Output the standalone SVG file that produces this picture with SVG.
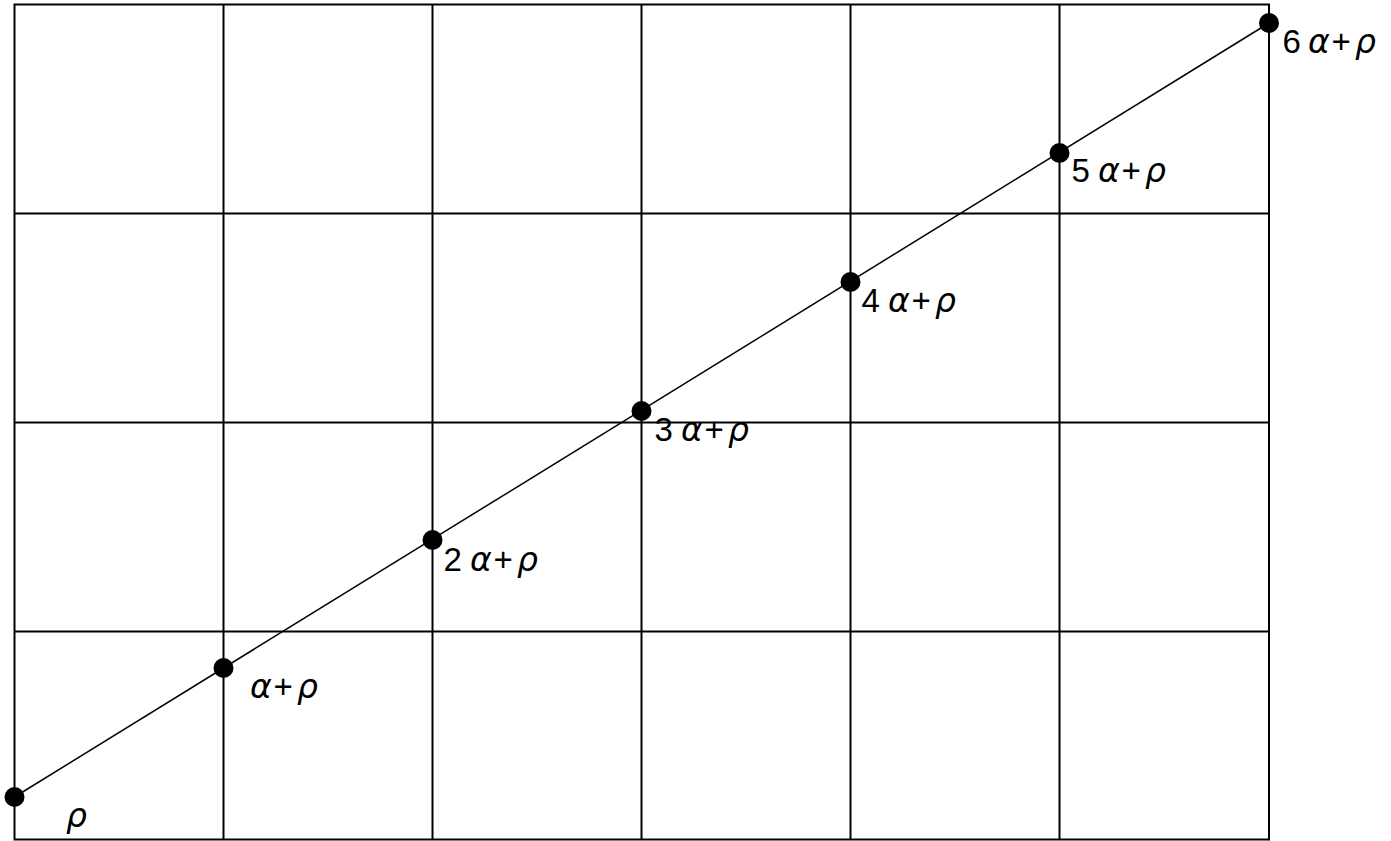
<svg xmlns="http://www.w3.org/2000/svg" width="1391" height="841" viewBox="0 0 1391 841">
<style>
.grid{stroke:#000;stroke-width:2;fill:none}
.diag{stroke:#000;stroke-width:1.5;fill:none}
.dot{fill:#000}
.lbl{font-family:"Liberation Sans",Arial,sans-serif;font-size:33px;fill:#000}
.g{font-family:"DejaVu Sans","Liberation Sans",sans-serif;font-style:oblique;font-size:33px}
</style>
<rect width="1391" height="841" fill="#fff"/>
<g id="grid">
<rect class="grid" x="14.5" y="4.5" width="1254.5" height="835"/>
<line class="grid" x1="223.5" y1="4.5" x2="223.5" y2="839.5"/>
<line class="grid" x1="432.5" y1="4.5" x2="432.5" y2="839.5"/>
<line class="grid" x1="641.5" y1="4.5" x2="641.5" y2="839.5"/>
<line class="grid" x1="850.5" y1="4.5" x2="850.5" y2="839.5"/>
<line class="grid" x1="1059.5" y1="4.5" x2="1059.5" y2="839.5"/>
<line class="grid" x1="14.5" y1="213.5" x2="1269" y2="213.5"/>
<line class="grid" x1="14.5" y1="422.5" x2="1269" y2="422.5"/>
<line class="grid" x1="14.5" y1="631.5" x2="1269" y2="631.5"/>
</g>
<g id="connectors">
<line class="diag" x1="14.5" y1="797" x2="1269" y2="23"/>
</g>
<g id="p0"><circle class="dot" cx="14.5" cy="797" r="10"/><text class="lbl" x="66" y="827"><tspan class="g">ρ</tspan></text></g>
<g id="p1"><circle class="dot" cx="223.5" cy="668" r="10"/><text class="lbl" y="698"><tspan class="g" x="250">α</tspan><tspan x="273.5">+</tspan><tspan class="g" x="297">ρ</tspan></text></g>
<g id="p2"><circle class="dot" cx="432.5" cy="540" r="10"/><text class="lbl" y="571"><tspan x="443.5">2</tspan><tspan class="g" x="470">α</tspan><tspan x="493.5">+</tspan><tspan class="g" x="517">ρ</tspan></text></g>
<g id="p3"><circle class="dot" cx="641.5" cy="411" r="10"/><text class="lbl" y="441"><tspan x="654.5">3</tspan><tspan class="g" x="681">α</tspan><tspan x="704.5">+</tspan><tspan class="g" x="728">ρ</tspan></text></g>
<g id="p4"><circle class="dot" cx="850.5" cy="282" r="10"/><text class="lbl" y="312"><tspan x="861.5">4</tspan><tspan class="g" x="888">α</tspan><tspan x="911.5">+</tspan><tspan class="g" x="935">ρ</tspan></text></g>
<g id="p5"><circle class="dot" cx="1059.5" cy="153" r="10"/><text class="lbl" y="182"><tspan x="1071.5">5</tspan><tspan class="g" x="1098">α</tspan><tspan x="1121.5">+</tspan><tspan class="g" x="1145">ρ</tspan></text></g>
<g id="p6"><circle class="dot" cx="1269" cy="23" r="10"/><text class="lbl" y="53"><tspan x="1282.5">6</tspan><tspan class="g" x="1308">α</tspan><tspan x="1331.5">+</tspan><tspan class="g" x="1355">ρ</tspan></text></g>
</svg>
